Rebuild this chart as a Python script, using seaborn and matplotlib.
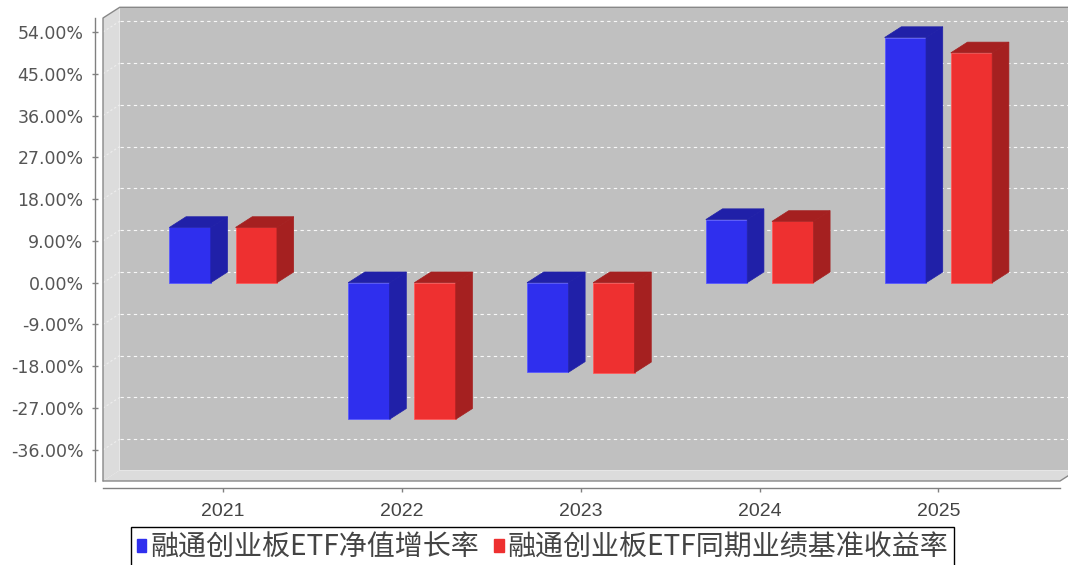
import matplotlib
matplotlib.use("Agg")
import matplotlib.pyplot as plt
import numpy as np
import pandas as pd
import seaborn as sns
from matplotlib.patches import Patch, Polygon, Rectangle
from matplotlib.ticker import FuncFormatter, MultipleLocator

# Values (percent)
years = ["2021", "2022", "2023", "2024", "2025"]
nav_growth = [11.9, -29.4, -19.3, 13.6, 52.8]
benchmark = [11.9, -29.4, -19.4, 13.2, 49.5]
series_names = ["融通创业板ETF净值增长率", "融通创业板ETF同期业绩基准收益率"]
y_ticks = [-36, -27, -18, -9, 0, 9, 18, 27, 36, 45, 54]

front_colors = ["#2F2FEE", "#EE3030"]
side_colors = ["#2020A8", "#A52020"]
edge_colors = ["#5A5AFF", "#FF5A5A"]

df = pd.DataFrame({
    "year": years * 2,
    "value": nav_growth + benchmark,
    "series": [series_names[0]] * len(years) + [series_names[1]] * len(years),
})

sns.set_style("white")
plt.rcParams["font.family"] = ["Noto Sans CJK SC", "DejaVu Sans"]

W, H = 1068, 565
fig = plt.figure(figsize=(W / 100, H / 100), dpi=100)
# front face of the 3D plot area, in pixels
left_px, right_px, top_px, bottom_px = 103, 1060, 18, 481
ax = fig.add_axes([left_px / W, 1 - bottom_px / H,
                   (right_px - left_px) / W, (bottom_px - top_px) / H])
ax.set_facecolor("none")

sns.barplot(data=df, x="year", y="value", hue="series", palette=front_colors,
            hue_order=series_names, width=0.74, gap=0.374, saturation=1,
            legend=False, ax=ax, zorder=4, linewidth=0.6)

xlim = (-0.672, 4.68)
ylim = (-42.7, 57.0)
ax.set_xlim(*xlim)
ax.set_ylim(*ylim)

# depth offset of the 3D effect, converted from pixels to data units
depth_x_px, depth_y_px = 16.7, 10.7
dx = depth_x_px * (xlim[1] - xlim[0]) / (right_px - left_px)
dy = depth_y_px * (ylim[1] - ylim[0]) / (bottom_px - top_px)

# extrude the bars
for cont, side, edge in zip(ax.containers, side_colors, edge_colors):
    for bar in cont:
        bar.set_edgecolor(edge)
        x0 = bar.get_x()
        x1 = x0 + bar.get_width()
        lo = min(bar.get_y(), bar.get_y() + bar.get_height())
        hi = max(bar.get_y(), bar.get_y() + bar.get_height())
        top = Polygon([(x0, hi), (x1, hi), (x1 + dx, hi + dy), (x0 + dx, hi + dy)],
                      closed=True, facecolor=side, edgecolor=side, lw=0.5, zorder=4)
        sidef = Polygon([(x1, lo), (x1, hi), (x1 + dx, hi + dy), (x1 + dx, lo + dy)],
                        closed=True, facecolor=side, edgecolor=side, lw=0.5, zorder=4)
        ax.add_patch(top)
        ax.add_patch(sidef)

x0, x1 = xlim
y0, y1 = ylim
wall = "#DCDCDC"
ax.add_patch(Rectangle((x0 + dx, y0 + dy), x1 - x0, y1 - y0, facecolor="#C0C0C0",
                       edgecolor="none", zorder=0, clip_on=False))
ax.add_patch(Polygon([(x0, y0), (x0 + dx, y0 + dy), (x0 + dx, y1 + dy), (x0, y1)],
                     closed=True, facecolor=wall, edgecolor="none", zorder=1, clip_on=False))
ax.add_patch(Polygon([(x0, y0), (x1, y0), (x1 + dx, y0 + dy), (x0 + dx, y0 + dy)],
                     closed=True, facecolor=wall, edgecolor="none", zorder=1, clip_on=False))

# dashed grid on the back wall and left wall
for t in y_ticks:
    ax.plot([x0 + dx, x1 + dx], [t + dy, t + dy], color="white", ls=(0, (3, 3)),
            lw=0.8, alpha=0.9, zorder=0.5, clip_on=False)
    ax.plot([x0, x0 + dx], [t, t + dy], color="white", ls=(0, (2, 2)),
            lw=0.8, alpha=0.5, zorder=1.5, clip_on=False)

# outline of the 3D box
ax.plot([x0, x0, x0 + dx, x1 + dx + 1], [y0, y1, y1 + dy, y1 + dy],
        color="#888888", lw=1, zorder=2, clip_on=False)
ax.plot([x0, x1, x1 + dx], [y0, y0, y0 + dy], color="#888888", lw=1, zorder=2, clip_on=False)

for side in ["top", "right"]:
    ax.spines[side].set_visible(False)
ax.spines["left"].set_position(("outward", 6))
ax.spines["bottom"].set_position(("outward", 5))
for side in ["left", "bottom"]:
    ax.spines[side].set_color("#808080")
    ax.spines[side].set_linewidth(1)

ax.yaxis.set_major_locator(MultipleLocator(9))
ax.yaxis.set_major_formatter(FuncFormatter(lambda v, p: f"{v:.2f}%"))
ax.tick_params(axis="y", direction="inout", length=4, width=1, color="#808080",
               labelsize=12.5, labelcolor="#555555", pad=6, left=True)
ax.tick_params(axis="x", direction="out", length=3, width=1, color="#808080",
               labelsize=14, labelcolor="#444444", pad=8, bottom=True)
for lab in ax.get_yticklabels():
    lab.set_family(["DejaVu Sans"])
for lab in ax.get_xticklabels():
    lab.set_family(["Liberation Sans", "DejaVu Sans"])
ax.set_xlabel("")
ax.set_ylabel("")

handles = [Patch(facecolor=c, edgecolor=c) for c in front_colors]
leg = fig.legend(handles, series_names, loc="upper left", ncol=2,
                 bbox_to_anchor=(131 / W, 1 - 527 / H), frameon=True, fancybox=False,
                 edgecolor="black", framealpha=1, borderaxespad=0, borderpad=0.2,
                 handlelength=0.33, handleheight=0.36, handletextpad=0.15,
                 columnspacing=0.55, prop={"family": ["Noto Sans CJK SC", "DejaVu Sans"], "size": 20.2})
leg.get_frame().set_linewidth(1)
for txt in leg.get_texts():
    txt.set_color("#444444")

fig.savefig("out.png", dpi=100)
